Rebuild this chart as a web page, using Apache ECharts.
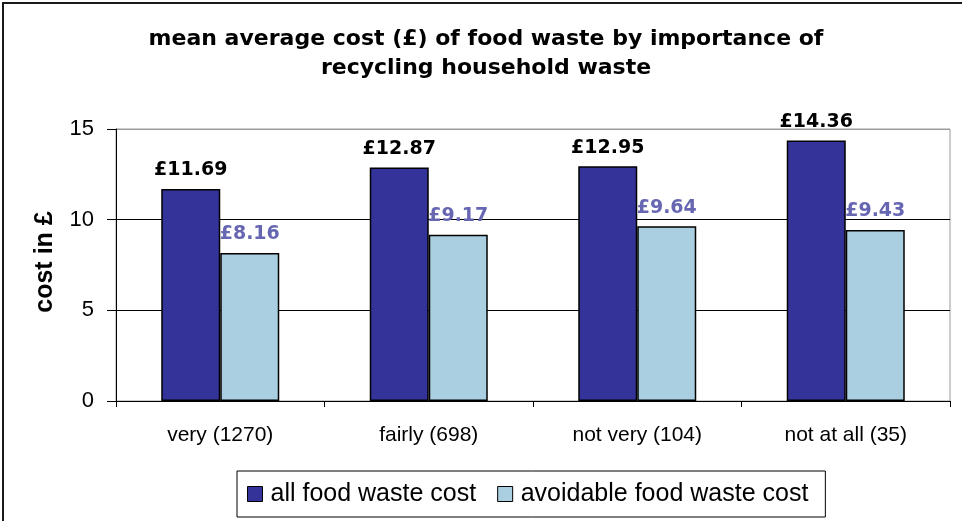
<!DOCTYPE html>
<html>
<head>
<meta charset="utf-8">
<script src="https://cdn.jsdelivr.net/npm/echarts@6/dist/echarts.min.js"></script>
<style>
  html, body { margin: 0; padding: 0; background: #fff; }
  #chart { width: 967px; height: 521px; }
</style>
</head>
<body>
<div id="chart"></div>
<script>
// Survey groups: how important recycling household waste is to the respondent (sample size)
const categories = ['very (1270)', 'fairly (698)', 'not very (104)', 'not at all (35)'];
// Mean cost per household, £
const allFoodWasteCost = [11.69, 12.87, 12.95, 14.36];
const avoidableFoodWasteCost = [8.16, 9.17, 9.64, 9.43];
const yTicks = [0, 5, 10, 15];

const seriesNames = ['all food waste cost', 'avoidable food waste cost'];
const pound = v => '£' + Number(v).toFixed(2);

const chart = echarts.init(document.getElementById('chart'), null, { renderer: 'canvas' });

chart.setOption({
  backgroundColor: '#ffffff',
  animation: false,
  title: {
    text: 'mean average cost (£) of food waste by importance of\nrecycling household waste',
    left: 481,
    textAlign: 'center',
    top: 20,
    textStyle: {
      fontFamily: 'DejaVu Sans',
      fontWeight: 'bold',
      fontSize: 22,
      lineHeight: 29,
      color: '#000'
    }
  },
  grid: {
    left: 116,
    right: 17,
    top: 129,
    bottom: 120,
    show: true,
    borderColor: '#9a9a9a',
    borderWidth: 1,
    backgroundColor: 'transparent'
  },
  legend: {
    left: 237,
    top: 471,
    data: seriesNames,
    icon: 'rect',
    itemWidth: 15,
    itemHeight: 15,
    itemGap: 21,
    padding: [10, 17, 10, 10],
    borderColor: '#000',
    borderWidth: 1,
    itemStyle: { borderColor: '#000', borderWidth: 1 },
    textStyle: {
      fontFamily: 'Liberation Sans',
      fontSize: 25,
      lineHeight: 26,
      color: '#000',
      padding: [0, 0, 0, 3]
    }
  },
  xAxis: {
    type: 'category',
    data: categories,
    axisLine: { lineStyle: { color: '#000', width: 1 } },
    axisTick: { show: true, alignWithLabel: false, length: 6, lineStyle: { color: '#000' } },
    axisLabel: {
      fontFamily: 'Liberation Sans',
      fontSize: 21,
      color: '#000',
      margin: 24
    }
  },
  yAxis: {
    type: 'value',
    min: 0,
    max: 15,
    interval: 5,
    name: 'cost in £',
    nameLocation: 'middle',
    nameRotate: 90,
    nameGap: 58,
    nameTextStyle: {
      fontFamily: 'Liberation Sans',
      fontWeight: 'bold',
      fontSize: 25,
      color: '#000',
      padding: [0, 0, 0, 6]
    },
    axisLine: { show: true, lineStyle: { color: '#000', width: 1 } },
    axisTick: { show: true, length: 9, lineStyle: { color: '#000' } },
    axisLabel: {
      fontFamily: 'Liberation Sans',
      fontSize: 22,
      color: '#000',
      margin: 22,
      formatter: v => (yTicks.includes(v) ? String(v) : '')
    },
    splitLine: {
      show: true,
      lineStyle: { color: ['#000', '#000', '#000', '#9a9a9a'], width: 1 }
    }
  },
  series: [
    {
      name: seriesNames[0],
      type: 'bar',
      data: allFoodWasteCost,
      barWidth: 59,
      barGap: '0%',
      itemStyle: { color: '#333399', borderColor: '#000', borderWidth: 1.5 },
      label: {
        show: true,
        position: 'top',
        distance: 9,
        formatter: p => pound(p.value),
        fontFamily: 'DejaVu Sans',
        fontWeight: 'bold',
        fontSize: 19,
        color: '#000'
      }
    },
    {
      name: seriesNames[1],
      type: 'bar',
      data: avoidableFoodWasteCost,
      barWidth: 59,
      barGap: '0%',
      itemStyle: { color: '#a9cfe1', borderColor: '#000', borderWidth: 1.5 },
      label: {
        show: true,
        position: 'top',
        distance: 9,
        formatter: p => pound(p.value),
        fontFamily: 'DejaVu Sans',
        fontWeight: 'bold',
        fontSize: 19,
        color: '#6666b3'
      }
    }
  ],
  graphic: [
    {
      type: 'polyline',
      silent: true,
      shape: { points: [[3, 530], [3, 3], [962, 3]] },
      style: { stroke: '#1a1a1a', lineWidth: 2, fill: null }
    }
  ]
});
</script>
</body>
</html>
